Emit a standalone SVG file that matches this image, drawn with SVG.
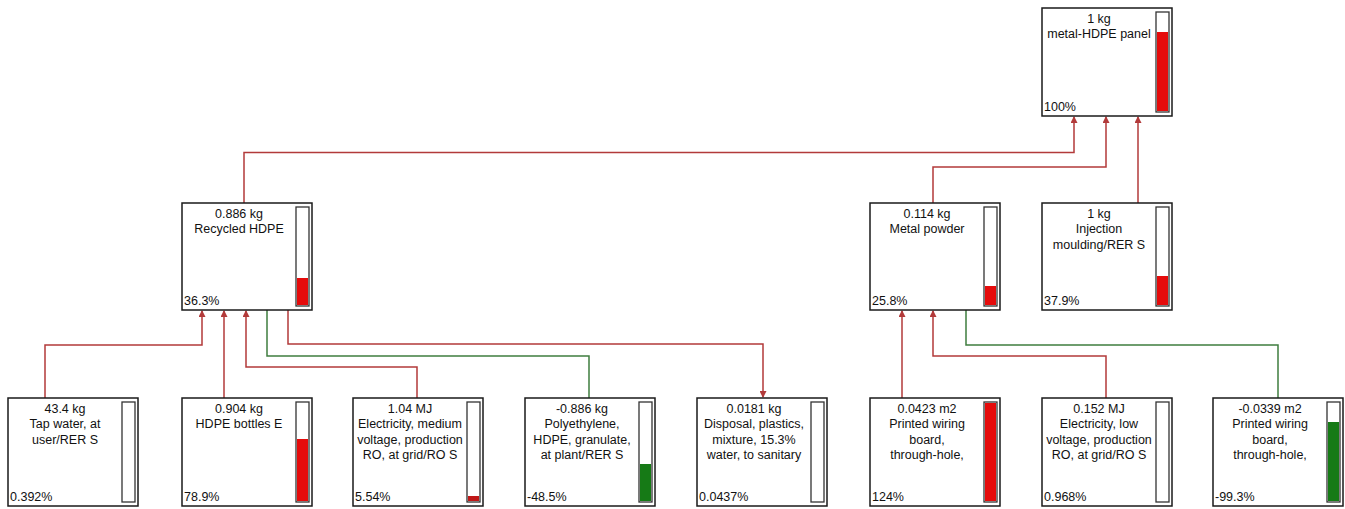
<svg xmlns="http://www.w3.org/2000/svg" width="1345" height="509" viewBox="0 0 1345 509">
<style>
.box{fill:#fff;stroke:#1a1a1a;stroke-width:1.5}
.bar{fill:#fff;stroke:#333;stroke-width:1.3}
.red{fill:#e50b0b}
.grn{fill:#167a16}
.t{font-family:"Liberation Sans",Arial,sans-serif;font-size:12.5px;fill:#111;text-anchor:middle}
.p{font-family:"Liberation Sans",Arial,sans-serif;font-size:12.5px;fill:#111}
.cr{fill:none;stroke:#b23a3a;stroke-width:1.5}
.cg{fill:none;stroke:#3f7d3f;stroke-width:1.5}
</style>
<defs>
<marker id="ar" markerWidth="7" markerHeight="7" refX="6" refY="3.5" orient="auto" markerUnits="userSpaceOnUse">
<path d="M0,0 L7,3.5 L0,7 Z" fill="#b23a3a"/>
</marker>
</defs>
<rect width="1345" height="509" fill="#fff"/>
<g id="connectors">
<path class="cr" d="M244,203 V152.5 H1074 V117" marker-end="url(#ar)"/>
<path class="cr" d="M933,203 V167 H1106 V117" marker-end="url(#ar)"/>
<path class="cr" d="M1138,203 V117" marker-end="url(#ar)"/>
<path class="cr" d="M45,398 V345 H202 V311" marker-end="url(#ar)"/>
<path class="cr" d="M224,398 V311" marker-end="url(#ar)"/>
<path class="cr" d="M417,398 V367 H246 V311" marker-end="url(#ar)"/>
<path class="cg" d="M589,398 V356 H267 V310"/>
<path class="cr" d="M288,310 V344 H763 V397" marker-end="url(#ar)"/>
<path class="cr" d="M902,398 V311" marker-end="url(#ar)"/>
<path class="cr" d="M1106,398 V356 H933 V311" marker-end="url(#ar)"/>
<path class="cg" d="M1278,398 V345 H966 V310"/>
</g>
<g id="n-panel">
<rect class="box" x="1042" y="8" width="130" height="108"/>
<rect class="bar" x="1156" y="12" width="13" height="100"/>
<rect class="red" x="1157" y="32" width="11" height="79"/>
<text class="t" x="1099" y="22.5">1 kg</text>
<text class="t" x="1099" y="38">metal-HDPE panel</text>
<text class="p" x="1044" y="111">100%</text>
</g>
<g id="n-recycled">
<rect class="box" x="182" y="203" width="130" height="107"/>
<rect class="bar" x="296" y="207" width="13" height="99"/>
<rect class="red" x="297" y="278" width="11" height="27"/>
<text class="t" x="239" y="217.5">0.886 kg</text>
<text class="t" x="239" y="233">Recycled HDPE</text>
<text class="p" x="184" y="305">36.3%</text>
</g>
<g id="n-metal">
<rect class="box" x="870" y="203" width="130" height="107"/>
<rect class="bar" x="984" y="207" width="13" height="99"/>
<rect class="red" x="985" y="286" width="11" height="19"/>
<text class="t" x="927" y="217.5">0.114 kg</text>
<text class="t" x="927" y="233">Metal powder</text>
<text class="p" x="872" y="305">25.8%</text>
</g>
<g id="n-injection">
<rect class="box" x="1042" y="203" width="130" height="107"/>
<rect class="bar" x="1156" y="207" width="13" height="99"/>
<rect class="red" x="1157" y="276" width="11" height="29"/>
<text class="t" x="1099" y="217.5">1 kg</text>
<text class="t" x="1099" y="233">Injection</text>
<text class="t" x="1099" y="248.5">moulding/RER S</text>
<text class="p" x="1044" y="305">37.9%</text>
</g>
<g id="n-tap">
<rect class="box" x="8" y="398" width="130" height="108"/>
<rect class="bar" x="122" y="402" width="13" height="100"/>
<text class="t" x="65" y="412.5">43.4 kg</text>
<text class="t" x="65" y="428">Tap water, at</text>
<text class="t" x="65" y="443.5">user/RER S</text>
<text class="p" x="10" y="501">0.392%</text>
</g>
<g id="n-bottles">
<rect class="box" x="182" y="398" width="130" height="108"/>
<rect class="bar" x="296" y="402" width="13" height="100"/>
<rect class="red" x="297" y="439" width="11" height="62"/>
<text class="t" x="239" y="412.5">0.904 kg</text>
<text class="t" x="239" y="428">HDPE bottles E</text>
<text class="p" x="184" y="501">78.9%</text>
</g>
<g id="n-elec-medium">
<rect class="box" x="353" y="398" width="130" height="108"/>
<rect class="bar" x="467" y="402" width="13" height="100"/>
<rect class="red" x="468" y="496" width="11" height="5" style="fill:#c01818"/>
<text class="t" x="410" y="412.5">1.04 MJ</text>
<text class="t" x="410" y="428">Electricity, medium</text>
<text class="t" x="410" y="443.5">voltage, production</text>
<text class="t" x="410" y="459">RO, at grid/RO S</text>
<text class="p" x="355" y="501">5.54%</text>
</g>
<g id="n-polyethylene">
<rect class="box" x="525" y="398" width="130" height="108"/>
<rect class="bar" x="639" y="402" width="13" height="100"/>
<rect class="grn" x="640" y="464" width="11" height="37"/>
<text class="t" x="582" y="412.5">-0.886 kg</text>
<text class="t" x="582" y="428">Polyethylene,</text>
<text class="t" x="582" y="443.5">HDPE, granulate,</text>
<text class="t" x="582" y="459">at plant/RER S</text>
<text class="p" x="527" y="501">-48.5%</text>
</g>
<g id="n-disposal">
<rect class="box" x="697" y="398" width="130" height="108"/>
<rect class="bar" x="811" y="402" width="13" height="100"/>
<text class="t" x="754" y="412.5">0.0181 kg</text>
<text class="t" x="754" y="428">Disposal, plastics,</text>
<text class="t" x="754" y="443.5">mixture, 15.3%</text>
<text class="t" x="754" y="459">water, to sanitary</text>
<text class="p" x="699" y="501">0.0437%</text>
</g>
<g id="n-pwb">
<rect class="box" x="870" y="398" width="130" height="108"/>
<rect class="bar" x="984" y="402" width="13" height="100"/>
<rect class="red" x="985" y="403" width="11" height="98"/>
<text class="t" x="927" y="412.5">0.0423 m2</text>
<text class="t" x="927" y="428">Printed wiring</text>
<text class="t" x="927" y="443.5">board,</text>
<text class="t" x="927" y="459">through-hole,</text>
<text class="p" x="872" y="501">124%</text>
</g>
<g id="n-elec-low">
<rect class="box" x="1042" y="398" width="130" height="108"/>
<rect class="bar" x="1156" y="402" width="13" height="100"/>
<text class="t" x="1099" y="412.5">0.152 MJ</text>
<text class="t" x="1099" y="428">Electricity, low</text>
<text class="t" x="1099" y="443.5">voltage, production</text>
<text class="t" x="1099" y="459">RO, at grid/RO S</text>
<text class="p" x="1044" y="501">0.968%</text>
</g>
<g id="n-pwb-neg">
<rect class="box" x="1213" y="398" width="130" height="108"/>
<rect class="bar" x="1327" y="402" width="13" height="100"/>
<rect class="grn" x="1328" y="422" width="11" height="79"/>
<text class="t" x="1270" y="412.5">-0.0339 m2</text>
<text class="t" x="1270" y="428">Printed wiring</text>
<text class="t" x="1270" y="443.5">board,</text>
<text class="t" x="1270" y="459">through-hole,</text>
<text class="p" x="1215" y="501">-99.3%</text>
</g>
</svg>
